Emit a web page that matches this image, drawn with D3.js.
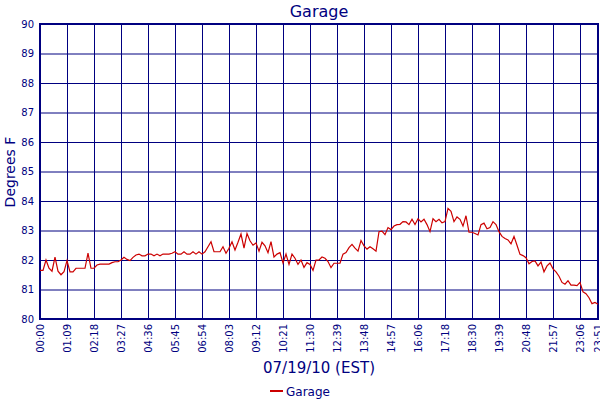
<!DOCTYPE html>
<html>
<head>
<meta charset="utf-8">
<script src="https://cdn.jsdelivr.net/npm/d3@7"></script>
<style>
body { margin: 0; background: #fff; }
text { font-family: "DejaVu Sans", Verdana, sans-serif; fill: #000080; }
</style>
</head>
<body>
<div class="container"></div>
<script>
// temperature readings, evenly spaced samples through the day
const temps = [
    81.65, 81.65, 82.0, 81.72, 81.62, 82.1, 81.62, 81.5, 81.6, 81.98,
    81.6, 81.6, 81.72, 81.72, 81.72, 81.72, 82.23, 81.72, 81.72, 81.83,
    81.86, 81.86, 81.86, 81.86, 81.91, 81.94, 81.94, 82.0, 82.09, 82.02,
    81.98, 82.09, 82.17, 82.2, 82.14, 82.14, 82.2, 82.2, 82.14, 82.2,
    82.14, 82.2, 82.2, 82.2, 82.23, 82.28, 82.2, 82.2, 82.28, 82.2,
    82.2, 82.28, 82.2, 82.28, 82.2, 82.28, 82.45, 82.62, 82.28, 82.28,
    82.28, 82.45, 82.23, 82.4, 82.62, 82.34, 82.6, 82.88, 82.4, 82.9,
    82.65, 82.5, 82.58, 82.3, 82.6, 82.48, 82.25, 82.62, 82.1, 82.2,
    82.25, 81.9, 82.2, 81.85, 82.2, 82.06, 81.85, 82.0, 81.75, 81.91,
    81.85, 81.65, 82.0, 82.0, 82.1, 82.06, 81.95, 81.74, 81.89, 81.89,
    81.89, 82.2, 82.25, 82.42, 82.53, 82.4, 82.3, 82.66, 82.48, 82.37,
    82.45, 82.38, 82.3, 82.96, 82.98, 82.86, 83.1, 83.03, 83.15, 83.2,
    83.21, 83.3, 83.29, 83.2, 83.38, 83.2, 83.4, 83.29, 83.38, 83.2,
    82.96, 83.4, 83.3, 83.38, 83.26, 83.3, 83.75, 83.65, 83.3, 83.46,
    83.38, 83.15, 83.5, 82.94, 82.94, 82.9, 82.85, 83.2, 83.25, 83.06,
    83.1, 83.3, 83.2, 82.96, 82.8, 82.73, 82.68, 82.55, 82.8, 82.5,
    82.19, 82.15, 82.08, 81.87, 81.95, 81.97, 81.8, 81.93, 81.6, 81.8,
    81.9, 81.7, 81.6, 81.45, 81.24, 81.18, 81.3, 81.15, 81.15, 81.13,
    81.24, 80.92, 80.86, 80.72, 80.52, 80.56, 80.5
];

const tickLabels = ["00:00", "01:09", "02:18", "03:27", "04:36", "05:45", "06:54",
    "08:03", "09:12", "10:21", "11:30", "12:39", "13:48", "14:57", "16:06",
    "17:18", "18:30", "19:39", "20:48", "21:57", "23:06", "23:51"];

const yTicks = [80, 81, 82, 83, 84, 85, 86, 87, 88, 89, 90];

const samplesPerTick = 9;

const width = 600;
const height = 400;
const plotLeft = 40, plotRight = 598, plotTop = 24, plotBottom = 319;
const navy = "#000080";

const svg = d3.select("div.container")
    .append("svg")
    .attr("width", width)
    .attr("height", height);

const x = d3.scaleLinear().domain([0, temps.length - 1]).range([plotLeft, plotRight]);
const y = d3.scaleLinear().domain([80, 90]).range([plotBottom, plotTop]);

// tick positions: every samplesPerTick samples, last one at the final sample
const tickIdx = tickLabels.map((d, i) => i < tickLabels.length - 1 ? i * samplesPerTick : temps.length - 1);

// y grid + labels
const yAxis = svg.append("g")
    .attr("transform", `translate(${plotLeft},0)`)
    .call(d3.axisLeft(y).tickValues(yTicks).tickSize(-(plotRight - plotLeft)).tickPadding(6).tickFormat(d3.format("d")));
yAxis.select(".domain").remove();
yAxis.selectAll("line").attr("stroke", navy).attr("stroke-width", 1);
yAxis.selectAll("text").style("font-size", "10px").attr("fill", navy);

// x grid + labels
const xAxis = svg.append("g")
    .attr("transform", `translate(0,${plotBottom})`)
    .call(d3.axisBottom(x).tickValues(tickIdx).tickSize(-(plotBottom - plotTop)).tickFormat((d, i) => tickLabels[i]));
xAxis.select(".domain").remove();
xAxis.selectAll("line").attr("stroke", navy).attr("stroke-width", 1);
xAxis.selectAll("text")
    .attr("x", -5)
    .attr("y", 0)
    .attr("dy", "0.35em")
    .attr("transform", "rotate(-90)")
    .style("text-anchor", "end")
    .style("font-size", "10px")
    .attr("fill", navy);

// plot border
svg.append("rect")
    .attr("x", plotLeft)
    .attr("y", plotTop)
    .attr("width", plotRight - plotLeft)
    .attr("height", plotBottom - plotTop)
    .attr("fill", "none")
    .attr("stroke", navy)
    .attr("stroke-width", 2);

const line = d3.line()
    .x((d, i) => x(i))
    .y(d => y(d));

svg.append("path")
    .datum(temps)
    .attr("d", line)
    .attr("fill", "none")
    .attr("stroke", "#cc0000")
    .attr("stroke-width", 1.2);

// titles
svg.append("text").attr("x", 319).attr("y", 17).attr("text-anchor", "middle")
    .style("font-size", "16px").text("Garage");

svg.append("text").attr("transform", "translate(15,172) rotate(-90)").attr("text-anchor", "middle")
    .style("font-size", "14px").text("Degrees F");

svg.append("text").attr("x", 319).attr("y", 373).attr("text-anchor", "middle")
    .style("font-size", "15px").text("07/19/10 (EST)");

// legend
svg.append("line").attr("x1", 270).attr("x2", 283).attr("y1", 391).attr("y2", 391)
    .attr("stroke", "#cc0000").attr("stroke-width", 2);
svg.append("text").attr("x", 286).attr("y", 395.5)
    .style("font-size", "12px").text("Garage");
</script>
</body>
</html>
